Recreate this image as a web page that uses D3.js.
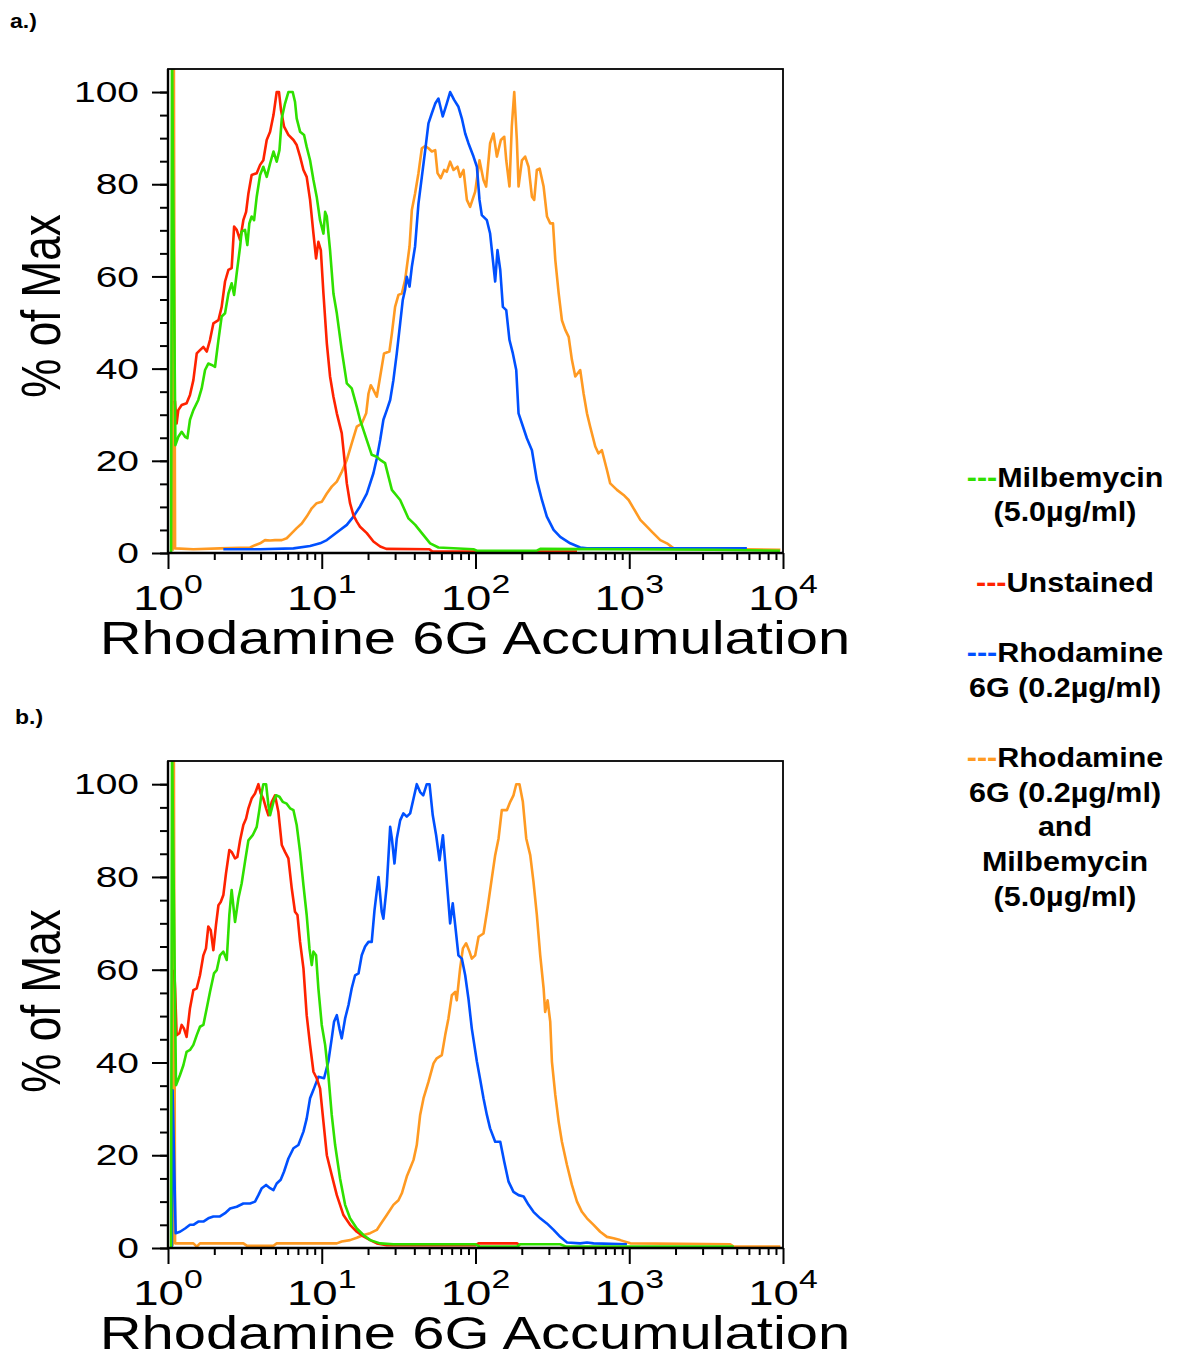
<!DOCTYPE html>
<html lang="en">
<head>
<meta charset="UTF-8">
<title>Rhodamine 6G Accumulation</title>
<script src="https://d3js.org/d3.v7.min.js"></script>
<style>
    body { margin: 0; background: #fff; }
    svg text { font-family: "Liberation Sans", Arial, Helvetica, sans-serif; fill: #000; }
    .axis path.domain { display: none; }
    .axis line { stroke: #000; stroke-width: 2px; }
</style>
</head>
<body>
<svg id="chart" width="1180" height="1357"></svg>
<script>
// each point: [log10 of Rhodamine 6G intensity, % of max]
const a_milbemycin = [[0.02,0],[0.026,110],[0.048,23.4],[0.067,25.2],[0.089,26.3],[0.111,25.2],[0.126,24.9],[0.143,28.9],[0.165,31.0],[0.197,33.2],[0.219,35.7],[0.241,39.7],[0.262,41.1],[0.284,40.8],[0.306,40.4],[0.328,46.2],[0.349,51.3],[0.371,52.0],[0.393,56.3],[0.414,58.5],[0.43,56.0],[0.447,60.7],[0.469,66.5],[0.479,69.7],[0.501,70.1],[0.516,66.8],[0.529,71.5],[0.544,73.0],[0.56,72.2],[0.577,77.3],[0.599,82.0],[0.62,83.8],[0.642,81.6],[0.664,84.5],[0.686,87.1],[0.707,84.9],[0.725,87.4],[0.74,94.3],[0.761,97.5],[0.783,100],[0.811,100],[0.826,97.9],[0.837,94.3],[0.859,91.4],[0.885,90.7],[0.902,88.1],[0.924,85.2],[0.946,80.9],[0.967,77.3],[0.989,72.2],[1.011,69.3],[1.022,74.0],[1.033,73.0],[1.054,65.7],[1.076,56.3],[1.098,52.0],[1.13,44.0],[1.163,36.8],[1.195,35.7],[1.228,31.7],[1.249,28.9],[1.271,26.7],[1.293,24.5],[1.325,21.3],[1.358,20.9],[1.38,20.2],[1.412,19.5],[1.456,13.7],[1.51,11.5],[1.564,7.5],[1.608,6.1],[1.651,4.3],[1.705,2.1],[1.759,1.2],[1.987,0.8],[2.009,0.5],[2.399,0.5],[2.421,0.9],[3.548,0.7],[3.98,0.5]];

const a_unstained = [[0.045,33],[0.056,28.1],[0.067,31.0],[0.089,32.1],[0.121,32.5],[0.143,34.3],[0.165,37.5],[0.187,43.3],[0.208,44.0],[0.23,44.7],[0.252,43.7],[0.273,46.2],[0.295,49.8],[0.328,50.5],[0.349,53.4],[0.371,58.9],[0.393,61.4],[0.414,61.8],[0.43,70.8],[0.447,70.1],[0.469,67.9],[0.49,72.2],[0.508,74.0],[0.523,78.0],[0.544,82.0],[0.577,82.4],[0.599,84.2],[0.62,85.2],[0.642,89.6],[0.664,91.4],[0.686,95.0],[0.707,100],[0.722,100],[0.735,96.1],[0.755,92.5],[0.783,90.7],[0.816,89.6],[0.837,88.5],[0.859,86.0],[0.881,83.1],[0.902,81.6],[0.924,76.6],[0.946,69.3],[0.963,63.9],[0.978,67.5],[0.994,65.7],[1.011,56.3],[1.033,45.5],[1.054,38.3],[1.076,33.9],[1.098,30.3],[1.13,26.0],[1.148,20.2],[1.163,15.1],[1.184,10.8],[1.206,8.2],[1.228,6.8],[1.249,5.7],[1.293,4.3],[1.336,2.5],[1.38,1.4],[1.42,0.9],[1.70,0.8],[1.72,0.3],[2.66,0.3]];

const a_rhodamine = [[0.36,0.8],[0.599,0.8],[0.816,1.0],[0.924,1.5],[0.989,2.1],[1.033,2.8],[1.076,3.9],[1.119,5.0],[1.163,6.1],[1.206,7.9],[1.249,10.1],[1.293,12.9],[1.336,17.3],[1.358,20.5],[1.38,24.5],[1.401,28.9],[1.423,31.0],[1.445,33.2],[1.466,37.5],[1.488,43.3],[1.51,49.8],[1.527,54.9],[1.542,57.1],[1.553,59.9],[1.571,57.8],[1.586,62.1],[1.607,66.5],[1.629,75.8],[1.651,81.6],[1.673,87.4],[1.694,93.2],[1.716,95.4],[1.738,97.5],[1.759,98.6],[1.787,94.7],[1.813,97.5],[1.835,100],[1.861,98.3],[1.889,96.8],[1.911,94.3],[1.933,91.0],[1.954,88.9],[1.987,86.0],[2.009,83.8],[2.026,76.6],[2.041,73.3],[2.074,72.2],[2.095,69.3],[2.113,63.6],[2.128,58.9],[2.143,65.7],[2.161,61.4],[2.178,53.4],[2.2,52.7],[2.221,46.2],[2.243,43.3],[2.265,39.7],[2.28,30.3],[2.302,28.1],[2.334,24.9],[2.367,22.3],[2.399,15.8],[2.432,11.5],[2.464,7.9],[2.508,5.0],[2.551,3.5],[2.616,2.1],[2.681,1.2],[2.725,1.0],[3.765,1.0]];

const a_combo = [[0.03,0.5],[0.038,110],[0.046,1.0],[0.165,0.8],[0.338,1.0],[0.534,1.2],[0.566,1.7],[0.599,2.1],[0.631,2.8],[0.664,2.7],[0.696,2.8],[0.74,2.8],[0.772,3.2],[0.805,4.3],[0.837,5.4],[0.87,6.4],[0.902,7.9],[0.935,9.7],[0.967,10.8],[1.0,11.1],[1.033,12.9],[1.065,14.4],[1.098,15.5],[1.13,17.6],[1.163,20.2],[1.195,23.8],[1.228,27.4],[1.26,28.1],[1.289,30.3],[1.304,34.6],[1.319,36.4],[1.336,35.4],[1.358,33.9],[1.38,38.3],[1.405,43.3],[1.44,43.7],[1.456,47.6],[1.477,53.4],[1.499,56.0],[1.521,56.3],[1.542,59.2],[1.571,66.5],[1.586,74.4],[1.607,78.0],[1.629,82.4],[1.651,87.8],[1.673,88.3],[1.694,87.8],[1.716,87.1],[1.738,87.4],[1.753,82.4],[1.774,81.3],[1.796,83.1],[1.813,82.7],[1.835,84.9],[1.857,83.1],[1.883,83.8],[1.9,81.6],[1.922,83.1],[1.944,76.6],[1.965,75.1],[1.998,78.4],[2.026,85.2],[2.052,80.9],[2.069,79.5],[2.095,88.9],[2.117,91.0],[2.139,86.0],[2.165,89.6],[2.187,90.3],[2.2,85.2],[2.221,79.5],[2.236,92.5],[2.252,100],[2.269,89.6],[2.28,79.5],[2.302,85.2],[2.323,86.0],[2.345,83.8],[2.367,77.3],[2.382,76.6],[2.399,83.1],[2.417,83.4],[2.443,79.5],[2.465,73.0],[2.486,71.5],[2.504,71.5],[2.519,63.6],[2.541,56.3],[2.562,50.5],[2.584,48.4],[2.606,46.9],[2.627,41.9],[2.649,38.3],[2.681,39.7],[2.703,34.6],[2.725,30.3],[2.746,27.4],[2.779,23.1],[2.8,21.6],[2.822,22.3],[2.855,18.0],[2.876,15.1],[2.92,13.7],[2.963,12.6],[2.996,11.5],[3.028,9.7],[3.072,7.2],[3.104,6.1],[3.148,4.6],[3.202,2.8],[3.245,2.1],[3.289,1.0],[3.983,0.7]];

const b_milbemycin = [[0.02,0],[0.026,110],[0.052,35.1],[0.078,37.3],[0.1,39.4],[0.121,42.3],[0.143,42.7],[0.165,43.8],[0.187,45.9],[0.208,47.7],[0.23,48.1],[0.252,51.7],[0.273,55.2],[0.299,59.2],[0.317,59.9],[0.338,63.1],[0.36,63.9],[0.382,62.1],[0.399,71.8],[0.414,77.2],[0.436,70.3],[0.458,75.4],[0.479,78.6],[0.501,83.3],[0.523,87.9],[0.551,89.0],[0.577,90.8],[0.594,94.4],[0.61,98.3],[0.62,100],[0.638,100],[0.653,95.5],[0.664,93.3],[0.686,96.2],[0.703,97.6],[0.725,97.3],[0.746,96.2],[0.772,95.8],[0.794,94.8],[0.816,94.4],[0.837,91.2],[0.859,85.4],[0.881,78.2],[0.902,71.8],[0.92,64.6],[0.935,61.0],[0.946,63.9],[0.963,63.1],[0.978,56.0],[1.0,48.1],[1.022,43.8],[1.043,37.3],[1.065,28.7],[1.087,22.2],[1.119,15.0],[1.152,9.3],[1.184,6.4],[1.228,4.2],[1.271,2.8],[1.315,1.7],[1.38,1.0],[1.466,0.8],[2.0,0.8],[2.03,0.3],[2.27,0.3],[2.29,0.8],[2.55,0.8],[2.59,0.3],[3.68,0.3]];

const b_unstained = [[0.04,60],[0.046,56.0],[0.056,45.9],[0.074,46.3],[0.089,48.1],[0.104,47.3],[0.121,45.5],[0.143,51.7],[0.165,55.6],[0.187,56.0],[0.208,58.8],[0.23,63.1],[0.247,64.6],[0.262,69.3],[0.278,68.5],[0.295,64.2],[0.312,69.6],[0.328,73.9],[0.343,74.6],[0.36,76.1],[0.377,80.7],[0.399,85.8],[0.414,85.4],[0.436,84.0],[0.451,84.3],[0.469,87.9],[0.49,91.2],[0.508,92.6],[0.523,94.8],[0.544,96.9],[0.566,98.0],[0.588,100],[0.603,98.0],[0.62,96.9],[0.638,94.8],[0.653,93.3],[0.675,96.2],[0.696,97.6],[0.718,94.0],[0.74,86.9],[0.761,85.4],[0.783,84.0],[0.805,77.5],[0.826,72.5],[0.842,71.8],[0.859,66.0],[0.881,60.3],[0.902,50.2],[0.924,43.8],[0.946,38.0],[0.967,36.6],[0.989,34.4],[1.011,27.2],[1.033,20.0],[1.065,15.7],[1.098,11.4],[1.141,7.1],[1.184,5.0],[1.228,3.5],[1.271,2.5],[1.315,1.7],[1.358,1.0],[1.423,0.6],[2.0,0.6],[2.02,1.0],[2.27,1.0],[2.29,0.5]];

const b_rhodamine = [[0.025,0],[0.03,34],[0.05,3.2],[0.078,3.5],[0.111,4.2],[0.143,5.0],[0.165,5.0],[0.197,5.7],[0.23,5.7],[0.262,6.4],[0.295,6.8],[0.338,6.8],[0.371,7.5],[0.404,8.5],[0.447,8.9],[0.49,9.6],[0.534,9.6],[0.566,10.0],[0.588,11.4],[0.61,12.9],[0.638,13.6],[0.664,12.9],[0.686,12.5],[0.707,13.9],[0.733,14.7],[0.755,16.5],[0.783,19.3],[0.816,21.5],[0.848,22.2],[0.881,25.1],[0.902,27.9],[0.924,32.3],[0.946,34.1],[0.978,36.9],[1.015,36.6],[1.043,40.2],[1.065,45.2],[1.08,48.8],[1.098,50.2],[1.115,47.3],[1.13,45.2],[1.152,49.5],[1.174,52.4],[1.195,56.0],[1.217,58.8],[1.239,59.2],[1.26,63.1],[1.282,65.0],[1.304,66.0],[1.325,66.0],[1.343,72.8],[1.369,80.0],[1.39,72.5],[1.401,71.0],[1.423,78.2],[1.445,90.8],[1.456,88.3],[1.473,82.9],[1.488,88.3],[1.51,92.2],[1.531,93.7],[1.553,93.0],[1.575,93.7],[1.597,96.9],[1.618,100],[1.64,98.3],[1.66,97.6],[1.683,100],[1.701,100],[1.722,93.3],[1.744,89.0],[1.766,83.6],[1.788,89.0],[1.802,83.6],[1.824,74.6],[1.835,70.0],[1.852,74.3],[1.868,69.6],[1.889,63.1],[1.911,62.4],[1.933,58.8],[1.954,53.8],[1.976,47.3],[2.009,40.2],[2.031,36.2],[2.052,32.3],[2.074,28.7],[2.095,25.8],[2.128,22.9],[2.161,22.9],[2.187,18.6],[2.215,14.3],[2.247,12.1],[2.28,11.4],[2.313,11.1],[2.345,9.3],[2.377,7.8],[2.421,6.4],[2.464,5.3],[2.508,3.9],[2.551,2.4],[2.595,1.2],[2.681,1.0],[2.725,1.2],[2.768,1.0],[2.985,0.8]];

const b_combo = [[0.03,0.5],[0.038,110],[0.046,1.0],[0.165,1.0],[0.187,0.3],[0.208,1.0],[0.49,1.0],[0.512,0.5],[0.686,0.5],[0.707,1.0],[1.098,1.0],[1.13,1.4],[1.184,1.7],[1.228,2.2],[1.271,2.8],[1.315,3.2],[1.358,3.9],[1.38,5.0],[1.423,7.1],[1.466,9.3],[1.499,10.3],[1.521,11.8],[1.553,15.4],[1.575,17.2],[1.597,19.0],[1.618,22.2],[1.64,28.7],[1.662,32.3],[1.694,35.8],[1.727,39.8],[1.748,40.9],[1.781,41.6],[1.803,45.9],[1.824,49.5],[1.846,54.5],[1.868,55.2],[1.878,53.4],[1.9,60.3],[1.918,64.6],[1.939,65.7],[1.961,63.9],[1.976,62.4],[1.998,63.1],[2.02,67.1],[2.052,67.8],[2.078,73.2],[2.106,79.7],[2.128,84.7],[2.15,88.3],[2.171,94.4],[2.204,94.4],[2.226,96.2],[2.247,97.6],[2.265,100],[2.286,100],[2.308,96.2],[2.33,88.3],[2.356,84.7],[2.377,79.0],[2.399,71.8],[2.421,63.1],[2.443,56.0],[2.453,50.9],[2.469,53.4],[2.486,48.8],[2.497,40.2],[2.519,33.0],[2.541,27.2],[2.562,22.9],[2.595,17.9],[2.627,13.6],[2.66,10.0],[2.692,7.8],[2.725,6.4],[2.768,5.0],[2.811,3.5],[2.855,2.4],[2.898,2.1],[2.941,1.7],[3.007,1.0],[3.657,0.8],[3.679,0.3],[3.983,0.3]];

const yTicks = [0, 20, 40, 60, 80, 100];
const yMinorTicks = d3.range(0, 101, 5);
const xDecades = [0, 1, 2, 3, 4];

const colors = {
    milbemycin: "#2fe000",
    unstained: "#ff2200",
    rhodamine: "#0050ff",
    combo: "#ff9a22"
};

const legendEntries = [
    { key: "milbemycin", lines: ["Milbemycin", "(5.0\u00b5g/ml)"] },
    { key: "unstained", lines: ["Unstained"] },
    { key: "rhodamine", lines: ["Rhodamine", "6G (0.2\u00b5g/ml)"] },
    { key: "combo", lines: ["Rhodamine", "6G (0.2\u00b5g/ml)", "and", "Milbemycin", "(5.0\u00b5g/ml)"] }
];

const panels = [
    { label: "a.)", labelX: 10, labelY: 28, top: 69, zero: 553,
      series: { combo: a_combo, rhodamine: a_rhodamine, unstained: a_unstained, milbemycin: a_milbemycin } },
    { label: "b.)", labelX: 15, labelY: 724, top: 761, zero: 1248,
      series: { combo: b_combo, rhodamine: b_rhodamine, unstained: b_unstained, milbemycin: b_milbemycin } }
];

const svg = d3.select("#chart");
const left = 168, right = 783;
const sx = 1.3; // the source figure is stretched sideways

const x = d3.scaleLog().domain([1, 1e4]).range([left, right]);

panels.forEach((p, i) => {
    const y = d3.scaleLinear().domain([0, 105]).range([p.zero, p.top]);
    const g = svg.append("g");

    // panel letter
    g.append("text")
        .attr("transform", `translate(${p.labelX},${p.labelY}) scale(1.15,1)`)
        .style("font-size", "20px")
        .style("font-weight", "bold")
        .text(p.label);

    // clip
    svg.append("clipPath").attr("id", "clip" + i)
        .append("rect")
        .attr("x", left).attr("y", p.top)
        .attr("width", right - left).attr("height", p.zero - p.top);

    // lines
    const line = d3.line()
        .x(d => x(Math.pow(10, d[0])))
        .y(d => y(d[1]));

    g.append("g").attr("clip-path", `url(#clip${i})`)
        .selectAll("path")
        .data(Object.entries(p.series))
        .join("path")
        .attr("d", d => line(d[1]))
        .attr("fill", "none")
        .attr("stroke", d => colors[d[0]])
        .attr("stroke-width", 2.6)
        .attr("stroke-linejoin", "round");

    // y axis
    g.append("g").attr("class", "axis")
        .attr("transform", `translate(${left},0)`)
        .call(d3.axisLeft(y).tickValues(yMinorTicks).tickSize(8).tickFormat(""));
    const yAx = g.append("g").attr("class", "axis")
        .attr("transform", `translate(${left},0)`)
        .call(d3.axisLeft(y).tickValues(yTicks).tickSize(16).tickPadding(13));
    yAx.selectAll("text")
        .style("font-size", "30px")
        .attr("x", -29 / sx)
        .attr("transform", `scale(${sx},1)`);

    // x axis
    const minor = [];
    xDecades.slice(0, -1).forEach(dcd => {
        for (let m = 2; m <= 9; m++) minor.push(m * Math.pow(10, dcd));
    });
    g.append("g").attr("class", "axis")
        .attr("transform", `translate(0,${p.zero})`)
        .call(d3.axisBottom(x).tickValues(minor).tickSize(7).tickFormat(""));
    g.append("g").attr("class", "axis")
        .attr("transform", `translate(0,${p.zero})`)
        .call(d3.axisBottom(x).tickValues(xDecades.map(e => Math.pow(10, e))).tickSize(16).tickFormat(""));

    xDecades.forEach(e => {
        const t = g.append("text")
            .attr("transform", `translate(${x(Math.pow(10, e))},${p.zero + 57}) scale(${sx},1)`)
            .attr("text-anchor", "middle")
            .style("font-size", "35px")
            .text("10");
        t.append("tspan").attr("dy", -17).style("font-size", "26px").text(e);
    });

    // frame
    g.append("rect")
        .attr("x", left).attr("y", p.top)
        .attr("width", right - left).attr("height", p.zero - p.top)
        .attr("fill", "none").attr("stroke", "#000").attr("stroke-width", 1.8);
    g.append("path")
        .attr("d", `M${left},${p.top}V${p.zero}H${right}`)
        .attr("fill", "none").attr("stroke", "#000").attr("stroke-width", 2.4);

    // axis titles
    g.append("text")
        .attr("transform", `translate(475,${p.zero + 101}) scale(1.26,1)`)
        .attr("text-anchor", "middle")
        .style("font-size", "46px")
        .text("Rhodamine 6G Accumulation");
    g.append("text")
        .attr("transform", `translate(60,${p.zero - 247}) scale(1.28,1) rotate(-90)`)
        .attr("text-anchor", "middle")
        .style("font-size", "44px")
        .text("% of Max");
});

// legend
const legendBaselines = [487, 521, 592, 662, 697, 767, 802, 836, 871, 906];
const lg = svg.append("g").attr("class", "legend");
let row = 0;
legendEntries.forEach(entry => {
    entry.lines.forEach((txt, j) => {
        const t = lg.append("text")
            .attr("transform", `translate(1065,${legendBaselines[row]}) scale(1.13,1)`)
            .attr("text-anchor", "middle")
            .style("font-size", "27px")
            .style("font-weight", "bold");
        if (j === 0) t.append("tspan").style("fill", colors[entry.key]).text("---");
        t.append("tspan").text(txt);
        row++;
    });
});
</script>
</body>
</html>
